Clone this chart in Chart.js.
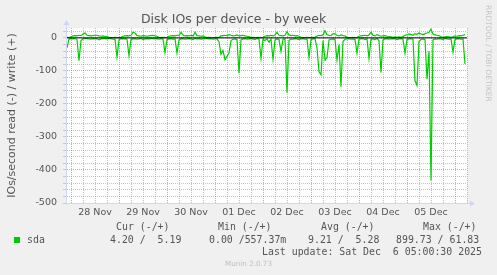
<!DOCTYPE html>
<html>
<head>
<meta charset="utf-8">
<title>Disk IOs per device - by week</title>
<script src="https://cdn.jsdelivr.net/npm/chart.js@4.4.1/dist/chart.umd.min.js"></script>
<style>
  body { margin: 0; background: #f0f0f0; }
  #wrap { position: relative; width: 497px; height: 275px; overflow: hidden; }
  #wrap canvas { position: absolute; left: 0; top: 0; }
  .t { position: absolute; white-space: pre; font-family: "DejaVu Sans Mono", monospace; font-size: 9.9px; line-height: 12px; color: #555; }
  .box { position: absolute; left: 14px; top: 237px; width: 6px; height: 6px; background: #00cc00; }
  .rrd { position: absolute; left: 484px; top: 5px; writing-mode: vertical-rl; font-family: "DejaVu Sans", sans-serif; font-size: 7.5px; color: #c4c4c4; white-space: pre; }
  .munin { position: absolute; left: 0; width: 497px; top: 258px; text-align: center; font-family: "DejaVu Sans", sans-serif; font-size: 7.2px; line-height: 12px; color: #c0c0c0; }
</style>
</head>
<body>
<div id="wrap">
  <canvas id="myChart" width="497" height="275"></canvas>
  <div class="rrd">RRDTOOL / TOBI OETIKER</div>
  <div class="t" style="left:116px;top:221px">Cur (-/+)</div>
  <div class="t" style="left:218px;top:221px">Min (-/+)</div>
  <div class="t" style="left:321px;top:221px">Avg (-/+)</div>
  <div class="t" style="left:423px;top:221px">Max (-/+)</div>
  <div class="box"></div>
  <div class="t" style="left:27px;top:234px">sda</div>
  <div class="t" style="left:110px;top:234px">4.20 /  5.19</div>
  <div class="t" style="left:209px;top:234px">0.00 /557.37m</div>
  <div class="t" style="left:308px;top:234px">9.21 /  5.28</div>
  <div class="t" style="left:396px;top:234px">899.73 / 61.83</div>
  <div class="t" style="left:262px;top:246px">Last update: Sat Dec  6 05:00:30 2025</div>
  <div class="munin">Munin 2.0.73</div>
</div>
<script>
// one point per hour, starting Nov 27 22:00
const dayLabels = ['28 Nov', '29 Nov', '30 Nov', '01 Dec', '02 Dec', '03 Dec', '04 Dec', '05 Dec'];

// reads are drawn below zero
const readIOs = [
  -30, -4, -2, -3, -2, -5, -69, -8, -3, -2,
  -2, -3, -4, -2, -3, -2, -6, -3, -2, -2,
  -3, -2, -2, -4, -3, -58, -6, -2, -3, -2,
  -4, -54, -5, -3, -2, -4, -3, -2, -5, -3,
  -2, -3, -2, -2, -3, -2, -4, -2, -3, -45,
  -5, -3, -2, -4, -3, -46, -6, -3, -2, -4,
  -3, -2, -3, -5, -2, -3, -2, -4, -3, -2,
  -2, -3, -2, -4, -3, -2, -12, -50, -38, -66,
  -56, -46, -8, -4, -3, -5, -107, -6, -3, -2,
  -4, -3, -2, -3, -5, -2, -3, -62, -4, -8,
  -3, -13, -4, -65, -6, -3, -5, -41, -4, -3,
  -166, -8, -3, -4, -2, -3, -5, -3, -2, -4,
  -3, -60, -5, -3, -2, -30, -102, -112, -8, -67,
  -60, -6, -4, -3, -5, -67, -20, -148, -10, -4,
  -3, -2, -4, -3, -5, -46, -4, -3, -2, -5,
  -3, -62, -4, -3, -5, -2, -8, -105, -6, -3,
  -2, -4, -3, -2, -3, -5, -3, -2, -4, -46,
  -5, -3, -2, -4, -130, -144, -10, -4, -3, -5,
  -125, -40, -432, -6, -3, -4, -2, -3, -5, -2,
  -3, -4, -3, -43, -5, -3, -2, -4, -3, -79
];

const writeIOs = [
  2, 1, 3, 6, 7, 6, 8, 7, 12, 15,
  8, 7, 6, 7, 8, 8, 6, 5, 6, 4,
  5, 2, 1, 1, 2, 1, 1, 2, 5, 6,
  7, 6, 8, 17, 15, 7, 6, 5, 7, 6,
  5, 6, 7, 8, 6, 5, 1, 1, 2, 1,
  2, 5, 6, 7, 6, 8, 7, 17, 9, 6,
  7, 6, 8, 6, 17, 7, 6, 5, 6, 3,
  1, 2, 1, 1, 1, 2, 1, 6, 7, 8,
  7, 10, 8, 6, 7, 9, 6, 7, 8, 6,
  5, 4, 1, 2, 1, 1, 2, 1, 2, 5,
  7, 6, 8, 6, 9, 17, 8, 7, 6, 8,
  19, 9, 7, 8, 6, 7, 5, 2, 1, 1,
  2, 1, 1, 2, 1, 6, 8, 7, 9, 22,
  10, 8, 7, 13, 12, 8, 6, 9, 7, 6,
  2, 1, 1, 2, 1, 1, 5, 6, 7, 8,
  6, 9, 17, 8, 6, 10, 7, 5, 6, 7,
  5, 4, 3, 2, 3, 2, 3, 2, 4, 8,
  9, 12, 10, 8, 13, 11, 15, 12, 10, 13,
  15, 17, 26, 12, 9, 8, 7, 3, 2, 3,
  4, 3, 2, 3, 6, 5, 7, 6, 8, 10
];

const yTicks = [-500, -480, -460, -440, -420, -400, -380, -360, -340, -320, -300, -280, -260, -240,
  -220, -200, -180, -160, -140, -120, -100, -80, -60, -40, -20, 0, 20];

const GREEN = '#00cc00';
const GRID = 'rgba(143,143,143,0.55)';
const MGRID = 'rgba(222,79,79,0.55)';
const AXIS = '#cfd6f8';

// hour offsets of x grid lines: midnight = 2, 26, ...
const xTicks = [];
for (let h = 2; h <= 200; h += 6) xTicks.push(h);

const toPoints = arr => arr.map((v, i) => ({ x: i, y: v }));

const munin = {
  id: 'munin',
  beforeDraw(chart) {
    const { ctx, chartArea: a } = chart;
    ctx.save();
    ctx.fillStyle = '#fff';
    ctx.fillRect(a.left, a.top, a.right - a.left, a.bottom - a.top);
    ctx.restore();
  },
  afterDraw(chart) {
    const { ctx, chartArea: a } = chart;
    const x0 = Math.round(a.left) - 0.5, y0 = Math.round(a.bottom) + 0.5;
    ctx.save();
    ctx.strokeStyle = AXIS;
    ctx.fillStyle = AXIS;
    ctx.lineWidth = 1;
    ctx.beginPath();
    ctx.moveTo(x0, y0);
    ctx.lineTo(x0, a.top - 4);
    ctx.moveTo(x0, y0);
    ctx.lineTo(a.right + 4, y0);
    ctx.stroke();
    // arrow heads
    ctx.beginPath();
    ctx.moveTo(x0 - 3, a.top - 3);
    ctx.lineTo(x0 + 3, a.top - 3);
    ctx.lineTo(x0, a.top - 8);
    ctx.closePath();
    ctx.fill();
    ctx.beginPath();
    ctx.moveTo(a.right + 3, y0 - 3);
    ctx.lineTo(a.right + 3, y0 + 3);
    ctx.lineTo(a.right + 8, y0);
    ctx.closePath();
    ctx.fill();
    ctx.restore();
  }
};

const ctx = document.getElementById('myChart');
new Chart(ctx, {
  type: 'line',
  data: {
    datasets: [
      {
        label: 'zero',
        data: [{ x: 0, y: 0 }, { x: 200, y: 0 }],
        borderColor: '#000',
        borderWidth: 1,
        pointRadius: 0
      },
      {
        label: 'sda write',
        data: toPoints(writeIOs),
        borderColor: GREEN,
        borderWidth: 1.2,
        pointRadius: 0,
        lineTension: 0
      },
      {
        label: 'sda read',
        data: toPoints(readIOs),
        borderColor: GREEN,
        borderWidth: 1.2,
        pointRadius: 0,
        lineTension: 0
      }
    ]
  },
  options: {
    responsive: false,
    animation: false,
    events: [],
    layout: { padding: { left: 0, right: 30, top: 0, bottom: 52 } },
    plugins: {
      legend: { display: false },
      tooltip: { enabled: false },
      title: {
        display: true,
        text: 'Disk IOs per device - by week',
        color: '#555',
        font: { family: 'DejaVu Sans', size: 12.5, weight: 'normal' },
        padding: { top: 12, bottom: 1 }
      }
    },
    scales: {
      x: {
        type: 'linear',
        min: 0,
        max: 200,
        afterBuildTicks: s => { s.ticks = xTicks.map(v => ({ value: v })); },
        afterFit: s => { s.height = 20; },
        ticks: {
          autoSkip: false,
          maxRotation: 0,
          padding: 4,
          color: '#555',
          font: { family: 'DejaVu Sans', size: 9.5 },
          callback: v => ((v - 14) % 24 === 0 ? dayLabels[(v - 14) / 24] : '')
        },
        grid: {
          drawTicks: false,
          color: c => ((c.tick.value - 2) % 24 === 0 ? MGRID : GRID)
        },
        border: { display: false, dash: [1, 1] }
      },
      y: {
        min: -500,
        max: 30,
        afterBuildTicks: s => { s.ticks = yTicks.map(v => ({ value: v })); },
        afterFit: s => { s.width = 67; },
        ticks: {
          autoSkip: false,
          padding: 6,
          color: '#555',
          font: { family: 'DejaVu Sans', size: 9.5 },
          callback: v => (v % 100 === 0 ? String(v) : '')
        },
        grid: {
          tickLength: 4,
          tickColor: 'rgba(143,143,143,0.4)',
          color: c => (c.tick.value % 100 === 0 ? MGRID : GRID)
        },
        border: { display: false, dash: [1, 1] },
        title: {
          display: true,
          text: 'IOs/second read (-) / write (+)',
          color: '#555',
          font: { family: 'DejaVu Sans', size: 11, weight: 'normal' },
          padding: { top: 6, bottom: 0 }
        }
      }
    }
  },
  plugins: [munin]
});
</script>
</body>
</html>
